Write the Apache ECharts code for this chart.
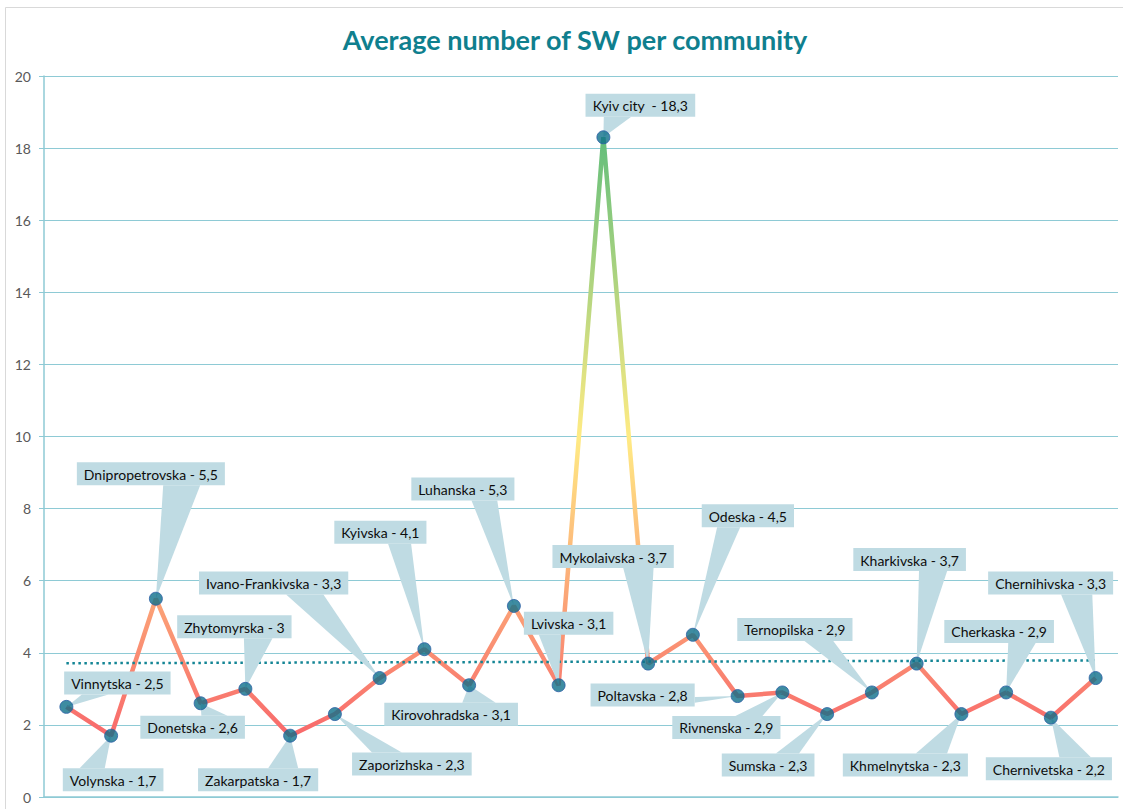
<!DOCTYPE html>
<html>
<head>
<meta charset="utf-8">
<script src="https://cdn.jsdelivr.net/npm/echarts@6/dist/echarts.min.js"></script>
<style>
  html, body { margin: 0; padding: 0; background: #fff; }
  #chart-dom { width: 1123px; height: 809px; }
</style>
</head>
<body>
<div id="chart-dom"></div>
<script>
// regions in the order they appear on the x axis
const regions = [
  'Vinnytska', 'Volynska', 'Dnipropetrovska', 'Donetska', 'Zhytomyrska', 'Zakarpatska',
  'Zaporizhska', 'Ivano-Frankivska', 'Kyivska', 'Kirovohradska', 'Luhanska', 'Lvivska',
  'Kyiv city ', 'Mykolaivska', 'Odeska', 'Poltavska', 'Rivnenska', 'Sumska',
  'Ternopilska', 'Kharkivska', 'Khmelnytska', 'Cherkaska', 'Chernivetska', 'Chernihivska'
];
const values = [
  2.5, 1.7, 5.5, 2.6, 3, 1.7,
  2.3, 3.3, 4.1, 3.1, 5.3, 3.1,
  18.3, 3.7, 4.5, 2.8, 2.9, 2.3,
  2.9, 3.7, 2.3, 2.9, 2.2, 3.3
];
// dotted trend line, start and end values
const trendEnds = [3.71, 3.79];
const yTicks = { min: 0, max: 20, step: 2 };

// where each callout box sits, relative to its point (px)
const labelOffsets = [
  [51, -24], [2, 44], [-5, -125], [-8, 24], [-11, -62], [-32, 44],
  [77, 50], [-106, -95], [-44, -117], [-18, 29], [-51, -117], [10, -62],
  [37, -32], [-35, -107], [55, -119], [-95, -1], [-56, 35], [-59, 51],
  [-77, -63], [-7, -104], [-56, 51], [-7, -61], [-2, 51], [-45, -95]
];

const labelFont = '14px Lato';
const boxColor = '#bfdbe3';
const padX = 7, boxH = 23;

const labelTexts = regions.map((r, i) => r + ' - ' + String(values[i]).replace('.', ','));

const ctx = document.createElement('canvas').getContext('2d');
ctx.font = labelFont;
function textWidth(t) { return ctx.measureText(t).width; }

function renderCallout(params, api) {
  const i = params.dataIndex;
  const p = api.coord([api.value(0), api.value(1)]);
  const off = labelOffsets[i];
  const cx = p[0] + off[0], cy = p[1] + off[1];
  const w = textWidth(labelTexts[i]) + padX * 2;
  const h = boxH;
  const dx = p[0] - cx, dy = p[1] - cy;
  const sx = dx >= 0 ? 1 : -1, sy = dy >= 0 ? 1 : -1;
  let a, b;
  if (Math.abs(dx) / w > Math.abs(dy) / h) {
    const ex = cx + sx * w / 2;
    a = [ex, cy + sy * h / 12];
    b = [ex, cy + sy * h / 3];
  } else {
    const ey = cy + sy * h / 2;
    a = [cx + sx * w / 12, ey];
    b = [cx + sx * w / 3, ey];
  }
  return {
    type: 'group',
    children: [
      { type: 'polygon', shape: { points: [a, b, p] }, style: { fill: boxColor } },
      { type: 'rect', shape: { x: cx - w / 2, y: cy - h / 2, width: w, height: h }, style: { fill: boxColor } },
      {
        type: 'text',
        style: {
          text: labelTexts[i], x: cx, y: cy + 0.5, align: 'center', verticalAlign: 'middle',
          font: labelFont, fill: '#0d0d0d'
        }
      }
    ]
  };
}

const myChart = echarts.init(document.getElementById('chart-dom'), null, { renderer: 'svg' });

const option = {
  backgroundColor: '#fff',
  animation: false,
  title: {
    text: 'Average number of SW per community',
    left: 570,
    textAlign: 'center',
    top: 21,
    textStyle: { color: '#0f7f8e', fontSize: 27, fontWeight: 'bold', fontFamily: 'Lato' }
  },
  graphic: [{
    type: 'rect',
    shape: { x: 5.5, y: 7.5, width: 1130, height: 820 },
    style: { fill: 'none', stroke: '#d9d9d9', lineWidth: 1 },
    silent: true, z: -10
  }],
  grid: { left: 44, right: 5, top: 76, bottom: 12 },
  xAxis: {
    type: 'category',
    data: regions,
    axisLine: { lineStyle: { color: '#8ecad5', width: 1.5 } },
    axisTick: { show: false },
    axisLabel: { show: false }
  },
  yAxis: {
    type: 'value',
    min: yTicks.min,
    max: yTicks.max,
    interval: yTicks.step,
    axisLine: { show: true, lineStyle: { color: '#8ecad5', width: 1.5 } },
    axisTick: { show: true, length: 5, lineStyle: { color: '#8ecad5' } },
    axisLabel: { color: '#595959', fontSize: 14, fontFamily: 'Lato', margin: 13 },
    splitLine: { lineStyle: { color: '#8ecad5', width: 1.2 } }
  },
  visualMap: {
    show: false,
    type: 'continuous',
    seriesIndex: 0,
    dimension: 1,
    min: Math.min(...values),
    max: Math.max(...values),
    inRange: { color: ['#f8696b', '#ffeb84', '#63be7b'] }
  },
  series: [
    {
      name: 'line',
      type: 'line',
      data: values,
      showSymbol: false,
      lineStyle: { width: 4.5 },
      z: 2
    },
    {
      name: 'trend',
      type: 'line',
      data: [[0, trendEnds[0]], [regions.length - 1, trendEnds[1]]],
      showSymbol: false,
      lineStyle: { color: '#138595', width: 2.5, type: [2.5, 3.5] },
      z: 3
    },
    {
      name: 'callouts',
      type: 'custom',
      data: values.map((v, i) => [i, v]),
      encode: { x: 0, y: 1 },
      renderItem: renderCallout,
      z: 4
    },
    {
      name: 'points',
      type: 'scatter',
      data: values,
      symbolSize: 13,
      itemStyle: { color: '#0e6f8a', borderColor: '#2c5fa6', borderWidth: 1 },
      z: 5
    }
  ]
};
myChart.setOption(option, true);
</script>
</body>
</html>
